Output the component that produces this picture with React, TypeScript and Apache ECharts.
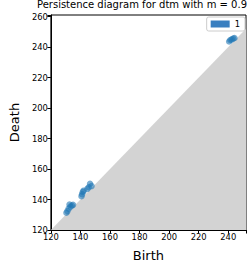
import React, { useEffect, useRef } from "react";
import * as echarts from "echarts";

const birth = [130.5, 131.2, 132, 132.6, 133.3, 134.2, 135, 140.7, 141.1, 141.6, 142.2, 144.7, 145.6, 146.5, 147.5, 240.6, 241.4, 242.4, 243.4, 244.2];
const death = [131.3, 132.4, 134, 136.7, 135.3, 136.1, 136.5, 142.2, 143.5, 145, 145.8, 147, 148, 150.3, 148.8, 243.6, 244.6, 245, 245.6, 245.9];
const xTicks = [120, 140, 160, 180, 200, 220, 240];
const yTicks = [120, 140, 160, 180, 200, 220, 240, 260];
const legendName = "1";
const titleText = "Persistence diagram for dtm with m = 0.9";
const axisMin = 120;
const xMax = 252;
const yMax = 261;

export default function App() {
  const ref = useRef<HTMLDivElement>(null);
  useEffect(() => {
    if (!ref.current) return;
    const chart = echarts.init(ref.current, null, { renderer: "svg" });
    const font = "DejaVu Sans";
    const axisCommon = {
      axisLine: { show: true, onZero: false, lineStyle: { color: "#000", width: 1 } },
      axisTick: { show: true, inside: false, length: 3.5, lineStyle: { color: "#000" } },
      splitLine: { show: false },
      nameLocation: "middle" as const,
      nameTextStyle: { fontFamily: font, fontSize: 13, color: "#000" },
    };
    chart.setOption({
      animation: false,
      backgroundColor: "#fff",
      title: {
        text: titleText,
        left: 142,
        top: -1,
        textAlign: "center",
        padding: 0,
        textStyle: { fontFamily: font, fontSize: 10, fontWeight: "normal", color: "#000" },
      },
      grid: { left: 39, right: 2, top: 15, bottom: 30, show: true, borderColor: "#000", borderWidth: 1, backgroundColor: "transparent" },
      legend: {
        data: [{ name: legendName, icon: "rect", itemStyle: { color: "#3a7fc0", opacity: 1 } }],
        right: 4,
        top: 17,
        itemWidth: 19,
        itemHeight: 7,
        itemGap: 4,
        padding: [3, 5, 3, 4],
        borderColor: "#ccc",
        borderWidth: 1,
        borderRadius: 2,
        backgroundColor: "rgba(255,255,255,0.8)",
        textStyle: { fontFamily: font, fontSize: 8.4, color: "#000" },
      },
      xAxis: {
        ...axisCommon,
        type: "value",
        min: axisMin,
        max: xMax,
        interval: 20,
        name: "Birth",
        nameGap: 19,
        axisLabel: {
          fontFamily: font,
          fontSize: 8.4,
          color: "#000",
          margin: 3,
          formatter: (v: number) => (xTicks.includes(v) ? String(v) : ""),
        },
      },
      yAxis: {
        ...axisCommon,
        type: "value",
        min: axisMin,
        max: yMax,
        interval: 20,
        name: "Death",
        nameGap: 24,
        axisLabel: {
          fontFamily: font,
          fontSize: 8.4,
          color: "#000",
          margin: 3,
          formatter: (v: number) => (yTicks.includes(v) ? String(v) : ""),
        },
      },
      series: [
        {
          type: "line",
          data: [[axisMin, axisMin], [xMax, xMax]],
          symbol: "none",
          lineStyle: { width: 0, color: "#d3d3d3" },
          areaStyle: { color: "#d3d3d3", opacity: 1, origin: "start" },
          silent: true,
          z: 1,
        },
        {
          name: legendName,
          type: "scatter",
          data: birth.map((b, i) => [b, death[i]]),
          symbolSize: 6.5,
          itemStyle: { color: "#1f77b4", opacity: 0.6 },
          z: 3,
        },
      ],
    });
    return () => chart.dispose();
  }, []);
  return <div ref={ref} style={{ width: 249, height: 267, position: "absolute", left: 0, top: 0 }} />;
}
